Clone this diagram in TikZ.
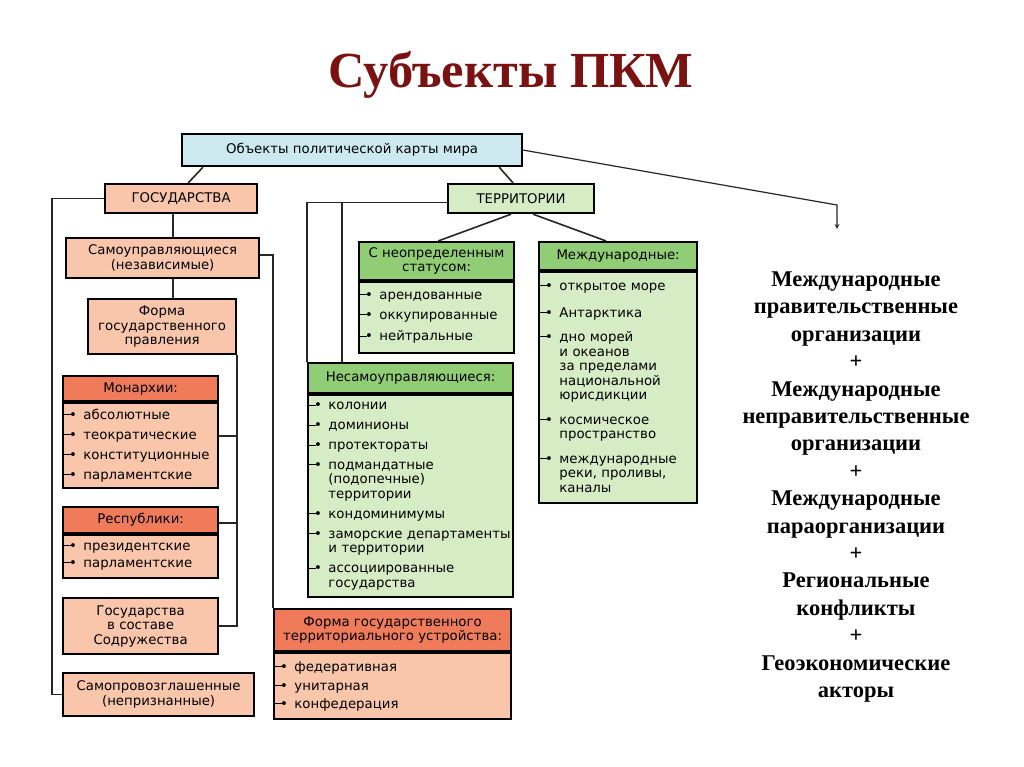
\documentclass[tikz,border=0pt]{standalone}
\usepackage{fontspec}
\setmainfont{Liberation Serif}
\setsansfont{DejaVu Sans}
\usetikzlibrary{positioning,arrows}
\definecolor{objBlue}{HTML}{CDE9F0}
\definecolor{stateLight}{HTML}{F9C6AC}
\definecolor{stateDark}{HTML}{EF7B5A}
\definecolor{terrLight}{HTML}{D5ECC5}
\definecolor{terrDark}{HTML}{91CD75}
\definecolor{titleRed}{HTML}{7A1212}
\newcommand\itm{\rule[4.2pt]{8pt}{1.1pt}\kern-2pt•\hspace{6.5pt}}
\newcommand\cnt{\hphantom{\itm}}
\tikzset{
  box/.style={rectangle, draw, line width=2.2pt, inner sep=1pt, align=center, anchor=north west},
  objBox/.style={box, fill=objBlue},
  stateBox/.style={box, fill=stateLight},
  stateHead/.style={box, fill=stateDark},
  terrBox/.style={box, fill=terrLight},
  terrHead/.style={box, fill=terrDark},
%  listBody/.style={inner xsep=2pt, align=left},
  listBody/.style={inner xsep=0pt, align=left},
  link/.style={line width=1.6pt, draw=black!85}
}

\begin{document}
\begin{tikzpicture}[x=1pt, y=-1pt, font=\sffamily\fontsize{13.3}{14.5}\selectfont]
  \useasboundingbox[fill=white] (0,0) rectangle (1024,767);
  \node [font=\rmfamily\bfseries\fontsize{50.5}{60}\selectfont, text=titleRed] (title) at (511,75) {Субъекты ПКМ};
  \node [objBox, minimum width=340pt, minimum height=32pt] (obj) at (181,133) {Объекты политической карты мира};
  % states
  \node [stateBox, minimum width=152pt, minimum height=29pt] (gos) at (104,183) {ГОСУДАРСТВА};
  \node [stateBox, minimum width=193pt, minimum height=40pt] (samo) at (65,237) {Самоуправляющиеся\\(независимые)};
  \node [stateBox, minimum width=148pt, minimum height=55pt] (forma) at (87,298) {Форма\\государственного\\правления};
  \node [stateHead, minimum width=155pt, minimum height=25pt] (monh) at (62,375) {Монархии:};
  \node [stateBox, listBody, below=0pt of monh, text width=155pt, minimum height=85pt] (monb)
    {\itm абсолютные\\[5.5pt]\itm теократические\\[5.5pt]\itm конституционные\\[5.5pt]\itm парламентские};
  \node [stateHead, minimum width=155pt, minimum height=26pt] (resph) at (62,506) {Республики:};
  \node [stateBox, listBody, below=0pt of resph, text width=155pt, minimum height=43pt] (respb)
    {\itm президентские\\[2.5pt]\itm парламентские};
  \node [stateBox, minimum width=155pt, minimum height=56pt] (cw) at (62,597) {Государства\\в составе\\Содружества};
  \node [stateBox, minimum width=191pt, minimum height=43pt] (selfp) at (62,672) {Самопровозглашенные\\(непризнанные)};
  \node [stateHead, minimum width=237pt, minimum height=42pt] (tformh) at (273,608) {Форма государственного\\территориального устройства:};
  \node [stateBox, listBody, below=0pt of tformh, text width=237pt, minimum height=66pt] (tformb)
    {\itm федеративная\\[5pt]\itm унитарная\\[3.5pt]\itm конфедерация};
  % territories
  \node [terrBox, minimum width=146pt, minimum height=29pt] (terr) at (447,183) {ТЕРРИТОРИИ};
  \node [terrHead, minimum width=155pt, minimum height=38pt] (undefh) at (358,241) {С неопределенным\\статусом:};
  \node [terrBox, listBody, below=0pt of undefh, text width=155pt, minimum height=71pt] (undefb)
    {\itm арендованные\\[5.5pt]\itm оккупированные\\[7pt]\itm нейтральные};
  \node [terrHead, minimum width=158pt, minimum height=28pt] (intlh) at (538,241) {Международные:};
  \node [terrBox, listBody, below=0pt of intlh, text width=158pt, minimum height=231pt] (intlb)
    {\itm открытое море\\[12pt]\itm Антарктика\\[10pt]\itm дно морей\\\cnt и океанов\\\cnt за пределами\\\cnt национальной\\\cnt юрисдикции\\[10pt]%
     \itm космическое\\\cnt пространство\\[10pt]\itm международные\\\cnt реки, проливы,\\\cnt каналы};
  \node [terrHead, minimum width=205pt, minimum height=30pt] (nsamh) at (307,362) {Несамоуправляющиеся:};
  \node [terrBox, listBody, below=0pt of nsamh, text width=205pt, minimum height=202pt] (nsamb)
    {\itm колонии\\[5.5pt]\itm доминионы\\[5.5pt]\itm протектораты\\[5pt]\itm подмандатные\\\cnt (подопечные)\\\cnt территории\\[5.5pt]%
     \itm кондоминимумы\\[5.5pt]\itm заморские департаменты\\\cnt и территории\\[5.5pt]\itm ассоциированные\\\cnt государства};
  % other subjects
  \node [font=\rmfamily\bfseries\fontsize{22.5}{27.4}\selectfont, align=center] (orgs) at (856,487)
    {Международные\\правительственные\\организации\\+\\Международные\\неправительственные\\организации\\+\\%
     Международные\\параорганизации\\+\\Региональные\\конфликты\\+\\Геоэкономические\\акторы};
  \coordinate (bend) at (837,205);
  \coordinate (arrTip) at (837,229);
  % connectors
  \draw [link] ([xshift=22pt]obj.south west) -- ([xshift=7pt]gos.north);
  \draw [link] ([xshift=-24pt]obj.south east) -- ([xshift=-8pt]terr.north);
  \draw [link, line width=1.2pt, -stealth] (obj.east) -- (bend) -- (arrTip);
  \path ([xshift=-8pt]gos.south) coordinate (gs);
  \draw [link] (gs) -- (gs |- samo.north);
  \draw [link] (gs |- samo.south) -- (gs |- forma.north);
  \draw [link] (gos.west) -- ++(-52,0) |- (selfp.west);
  \draw [link] ([yshift=3pt]samo.east) -| (tformh.north west);
  \draw [link] (forma.south east) |- (cw.east);
  \draw [link] (monb.east) ++(0,-10) coordinate (mj) -- (mj -| forma.east);
  \draw [link] (resph.east) ++(0,3) coordinate (rj) -- (rj -| forma.east);
  \draw [link] (terr.west) ++(0,4) coordinate (tw) -| (nsamh.north west);
  \draw [link] (tw -| nsamh.north west) ++(35,0) coordinate (tv) -- (tv |- nsamh.north);
  \draw [link] ([xshift=-10pt]terr.south) -- ([xshift=1.5pt]undefh.north);
  \draw [link] ([xshift=12pt]terr.south) -- ([xshift=-12pt]intlh.north);
\end{tikzpicture}
\end{document}
